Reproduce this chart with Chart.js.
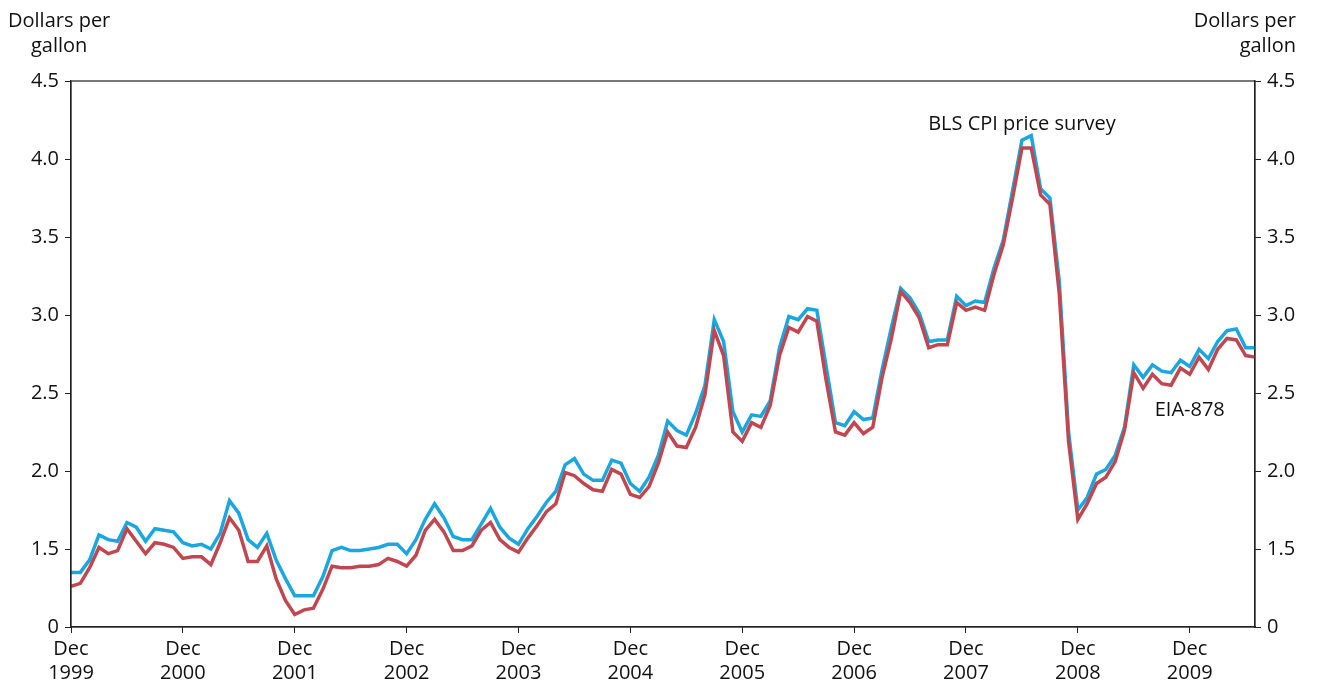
<!DOCTYPE html>
<html><head><meta charset="utf-8">
<script src="https://cdn.jsdelivr.net/npm/chart.js@4.4.0/dist/chart.umd.min.js"></script>
<style>html,body{margin:0;padding:0;background:#fff}#w{position:relative;width:1320px;height:686px}
.t{position:absolute;font-family:"Open Sans",sans-serif;font-size:20px;line-height:25px;color:#111}</style>
</head><body><div id="w"><canvas id="c" width="1320" height="686"></canvas>
<div class="t" style="left:8px;top:7px;text-align:center">Dollars per<br>gallon</div>
<div class="t" style="right:24px;top:7px;text-align:right">Dollars per<br>gallon</div>
</div>
<script>
const startYear = 1999;
const months = 128; // Dec 1999 .. Jul 2010
const blsCPI = [1.35,1.35,1.43,1.59,1.56,1.55,1.67,1.64,1.55,1.63,1.62,1.61,
1.54,1.52,1.53,1.50,1.60,1.81,1.73,1.56,1.51,1.60,1.43,1.31,
1.20,1.20,1.20,1.32,1.49,1.51,1.49,1.49,1.50,1.51,1.53,1.53,
1.47,1.56,1.69,1.79,1.70,1.58,1.56,1.56,1.66,1.76,1.64,1.57,
1.53,1.63,1.71,1.80,1.87,2.04,2.08,1.98,1.94,1.94,2.07,2.05,
1.92,1.87,1.96,2.10,2.32,2.26,2.23,2.37,2.55,2.97,2.83,2.38,
2.25,2.36,2.35,2.45,2.79,2.99,2.97,3.04,3.03,2.67,2.31,2.29,
2.38,2.33,2.34,2.65,2.92,3.17,3.11,3.01,2.83,2.84,2.84,3.12,
3.06,3.09,3.08,3.30,3.48,3.80,4.12,4.15,3.81,3.75,3.22,2.25,
1.75,1.83,1.98,2.01,2.10,2.28,2.68,2.60,2.68,2.64,2.63,2.71,
2.67,2.78,2.72,2.83,2.90,2.91,2.79,2.79];
const eia878 = [1.26,1.28,1.38,1.51,1.47,1.49,1.63,1.55,1.47,1.54,1.53,1.51,
1.44,1.45,1.45,1.40,1.54,1.70,1.62,1.42,1.42,1.52,1.31,1.17,
1.08,1.11,1.12,1.24,1.39,1.38,1.38,1.39,1.39,1.40,1.44,1.42,
1.39,1.46,1.62,1.69,1.61,1.49,1.49,1.52,1.62,1.67,1.56,1.51,
1.48,1.57,1.65,1.74,1.79,1.99,1.97,1.92,1.88,1.87,2.01,1.98,
1.85,1.83,1.90,2.05,2.25,2.16,2.15,2.28,2.49,2.90,2.74,2.25,
2.19,2.31,2.28,2.42,2.74,2.92,2.89,2.99,2.96,2.58,2.25,2.23,
2.31,2.24,2.28,2.60,2.85,3.15,3.08,2.98,2.79,2.81,2.81,3.08,
3.03,3.05,3.03,3.26,3.45,3.75,4.07,4.07,3.77,3.71,3.14,2.19,
1.69,1.79,1.92,1.96,2.06,2.26,2.63,2.53,2.62,2.56,2.55,2.66,
2.62,2.73,2.65,2.78,2.85,2.84,2.74,2.73];
const yTickLabels = {1:'0',1.5:'1.5',2:'2.0',2.5:'2.5',3:'3.0',3.5:'3.5',4:'4.0',4.5:'4.5'};
const labels = Array.from({length:months},(_,i)=>i);
const F = {family:'"Open Sans",sans-serif',size:20};
const yScale = (pos)=>({position:pos,min:1,max:4.5,
  afterFit:s=>{s.width = pos==='left'?71:65;},
  ticks:{stepSize:0.5,color:'#111',font:F,padding:6,callback:v=>yTickLabels[v]},
  grid:{drawOnChartArea:false,tickLength:6,color:'#222'},border:{color:'#222',width:1.2}});
const frame = {id:'frame',afterDraw(ch){const a=ch.chartArea,c=ch.ctx;c.save();c.strokeStyle='#222';c.lineWidth=1.2;c.strokeRect(a.left,a.top,a.width,a.height);
  const x=ch.scales.x,y=ch.scales.y;c.fillStyle='#111';c.font='20px "Open Sans",sans-serif';c.textAlign='center';c.textBaseline='middle';
  c.fillText('BLS CPI price survey',x.getPixelForValue(102),y.getPixelForValue(4.22));
  c.fillText('EIA-878',x.getPixelForValue(120),y.getPixelForValue(2.39));c.restore();}};
new Chart(document.getElementById('c'),{type:'line',
 data:{labels,datasets:[
  {data:eia878,borderColor:'#c0474f',borderWidth:3.5,pointRadius:0,tension:0},
  {data:blsCPI,borderColor:'#1aa6df',borderWidth:3.5,pointRadius:0,tension:0}]},
 options:{responsive:false,animation:false,layout:{padding:{top:81,left:0,right:0,bottom:0}},
  plugins:{legend:{display:false},tooltip:{enabled:false}},
  scales:{
   x:{type:'category',offset:false,afterFit:s=>{s.height=59;},
     ticks:{autoSkip:false,maxRotation:0,color:'#111',font:F,padding:4,
       callback:(v,i)=>i%12===0?['Dec',String(startYear+i/12)]:''},
     grid:{drawOnChartArea:false,tickLength:6,color:(ctx)=>ctx.index%12===0?'#222':'rgba(0,0,0,0)'},border:{color:'#222',width:1.2}},
   y:yScale('left'),y2:yScale('right')}},
 plugins:[frame]});
</script></body></html>
